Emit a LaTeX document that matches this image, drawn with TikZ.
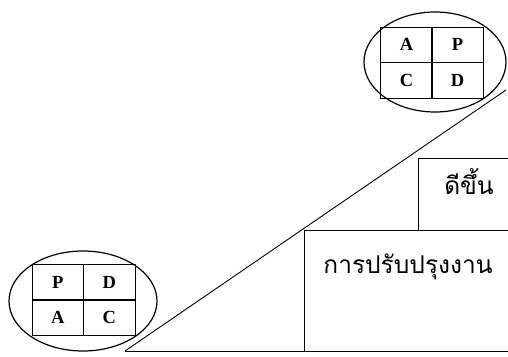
\documentclass[tikz,border=0pt]{standalone}
\usepackage{fontspec}
\setmainfont{Liberation Serif}
\newfontfamily\thaifont[Script=Thai]{Loma}
\begin{document}
\begin{tikzpicture}[
  x=1pt, y=1pt,
  every path/.style={line width=0.9pt},
  cell/.style={draw, minimum width=51.5pt, minimum height=35.5pt, inner sep=0pt, font=\bfseries\fontsize{18.5}{18.5}\selectfont},
  ring/.style={draw, line width=1.2pt},
  thai/.style={font=\thaifont\fontsize{24.5}{28}\selectfont, inner sep=0pt}
]
\useasboundingbox (0,0) rectangle (508,356);

% --- staircase: slope, base and the two steps ---
\coordinate (foot) at (125,5);
\coordinate (top) at (506,266);
\coordinate (baseEnd) at (508,5);
\coordinate (stepA) at (304,5);
\coordinate (stepAtop) at (304,126);
\coordinate (stepAend) at (508,126);
\coordinate (stepB) at (418,126);
\coordinate (stepBtop) at (418,198);
\coordinate (stepBend) at (508,198);

\draw (foot) -- (top);
\draw (foot) -- (baseEnd);
\draw (stepA) -- (stepAtop) -- (stepAend);
\draw (stepB) -- (stepBtop) -- (stepBend);

\node[thai] (improve) at (408,89) {การปรับปรุงงาน};
\node[thai] (better) at (469,174) {ดีขึ้น};

% --- PDCA wheel at the foot ---
\draw[ring] (83,55) ellipse [x radius=74pt, y radius=50pt];
\node[cell] (lowP) at (57.75,73.5) {P};
\node[cell] (lowD) at (109.25,73.5) {D};
\node[cell] (lowA) at (57.75,38.5) {A};
\node[cell] (lowC) at (109.25,38.5) {C};

% --- PDCA wheel at the top ---
\draw[ring] (435,294) ellipse [x radius=71pt, y radius=50pt];
\node[cell] (highA) at (406.5,311.25) {A};
\node[cell] (highP) at (457.5,311.25) {P};
\node[cell] (highC) at (406.5,275.75) {C};
\node[cell] (highD) at (457.5,275.75) {D};

\end{tikzpicture}
\end{document}
